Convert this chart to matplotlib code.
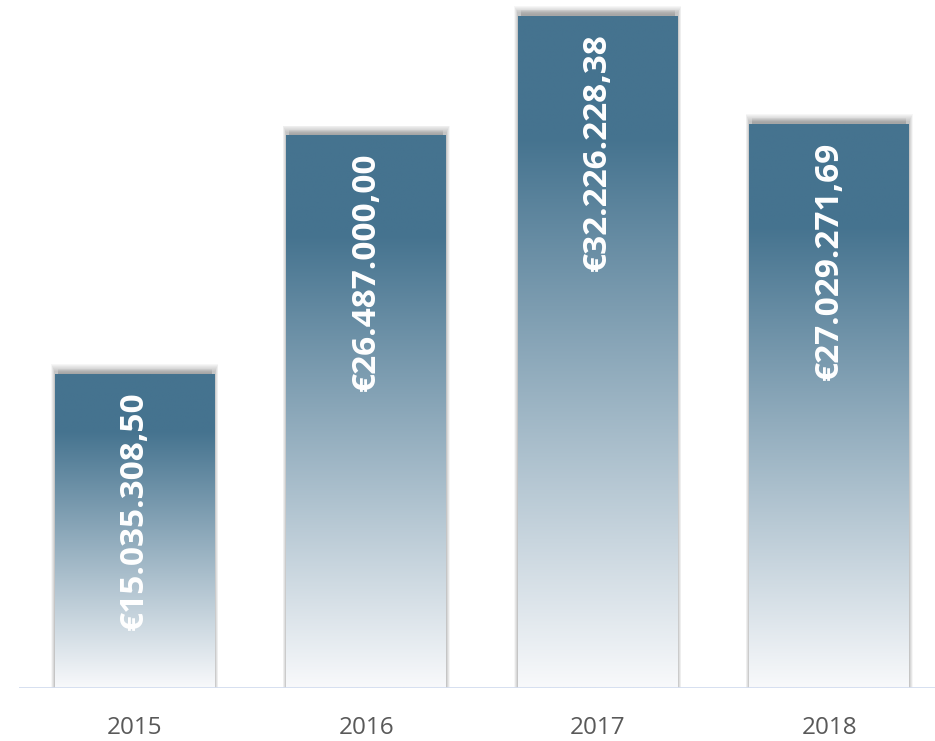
import numpy as np
import matplotlib.pyplot as plt
from matplotlib.colors import LinearSegmentedColormap
from matplotlib.patches import Rectangle

years = ['2015', '2016', '2017', '2018']
values = [15035308.50, 26487000.00, 32226228.38, 27029271.69]
labels = ['€15.035.308,50', '€26.487.000,00', '€32.226.228,38', '€27.029.271,69']

fig = plt.figure(figsize=(9.35, 7.41), dpi=100)
# axes box in pixels: x 19..945, y 0..688 (from top)
ax = fig.add_axes([19 / 935, (741 - 688) / 741, (945 - 19) / 935, 688 / 741])
ax.set_xlim(-0.5, 3.5)
ax.set_ylim(0, 33.0e6)

px_x = 1 / 231.5
px_y = 33.0e6 / 688
width = 0.69

# gradient: dark at top, fading to nearly white at the bottom
cmap = LinearSegmentedColormap.from_list(
    'bar', [(0.0, '#45738f'), (0.18, '#45738f'), (1.0, '#f8f9fb')])
grad = np.linspace(0, 1, 256).reshape(-1, 1)

for i, v in enumerate(values):
    x0 = i - width / 2
    # soft shadow, strongest just above the top of the bar
    for k in range(8):
        s = (8 - k) * 0.9
        ax.add_patch(Rectangle((x0 - s * px_x * 0.5, 0), width + s * px_x, v + (3 + s) * px_y,
                               facecolor='#707070', edgecolor='none', alpha=0.06, zorder=1))
    for k in range(5):
        ax.add_patch(Rectangle((x0 + 3 * px_x, v), width - 6 * px_x, (2 + k) * px_y,
                               facecolor='#707070', edgecolor='none', alpha=0.08, zorder=1))
    ax.imshow(grad, cmap=cmap, aspect='auto', origin='upper',
              extent=(x0, x0 + width, 0, v), zorder=2, interpolation='bilinear')
    ax.text(i, v - 17 * px_y, labels[i], rotation=90, ha='center', va='top',
            color='white', fontsize=24, fontweight='bold', family='Open Sans', zorder=3)

ax.axhline(0, color='#d3ddef', linewidth=2, zorder=4)
for sp in ax.spines.values():
    sp.set_visible(False)
ax.set_yticks([])
ax.set_xticks(range(len(years)))
ax.set_xticklabels(years, color='#595959', fontsize=17.5, family='Open Sans')
ax.tick_params(axis='x', length=0, pad=20)

fig.savefig('out.png', dpi=100)
